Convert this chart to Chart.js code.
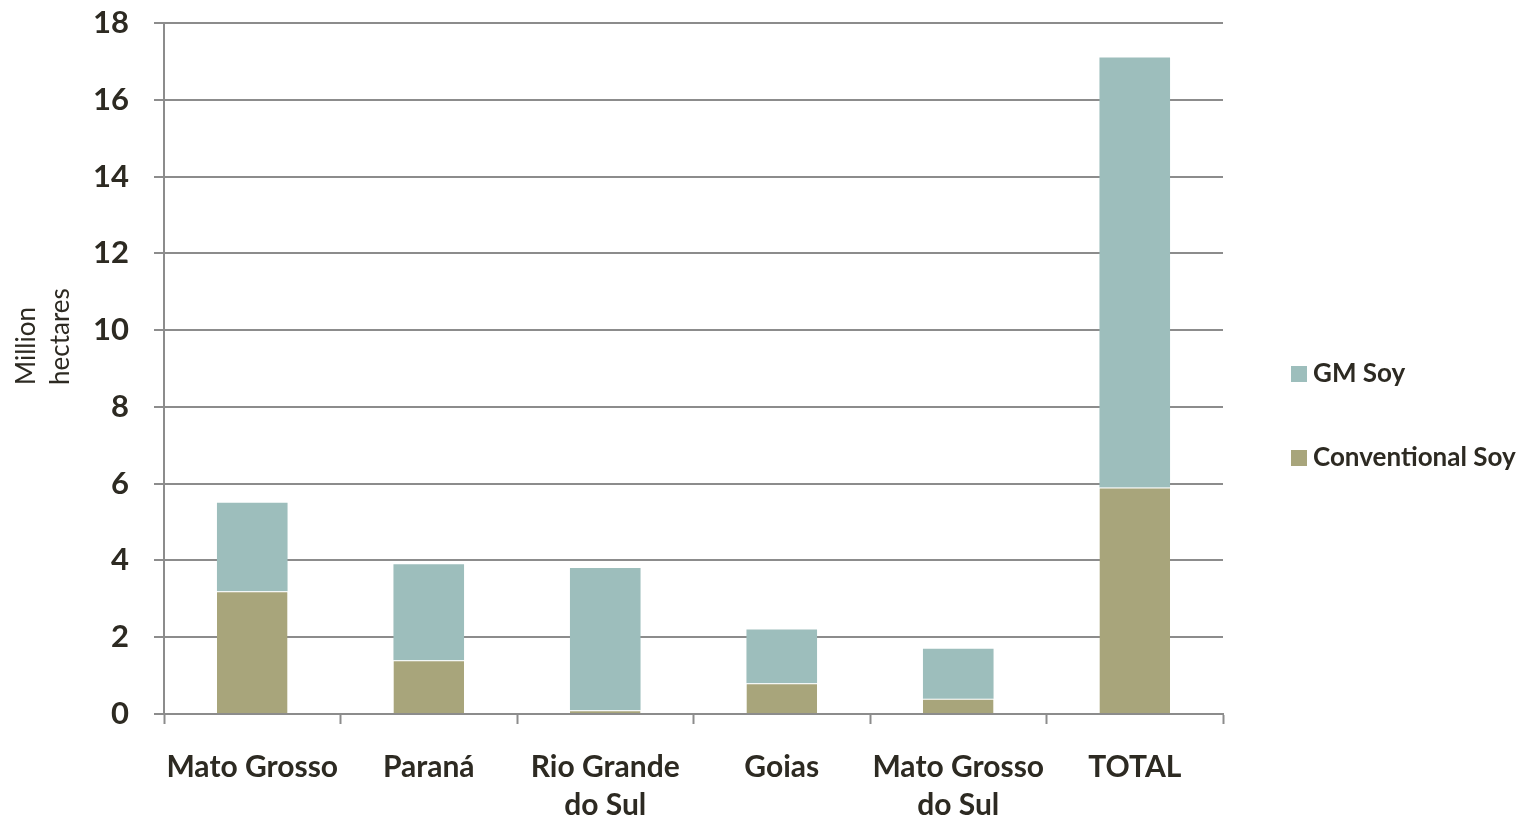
<!DOCTYPE html>
<html>
<head>
<meta charset="utf-8">
<script src="https://cdn.jsdelivr.net/npm/chart.js@4.4.1/dist/chart.umd.min.js"></script>
<style>
  html, body { margin: 0; padding: 0; background: #fff; }
  #wrap { position: relative; width: 1521px; height: 817px; }
</style>
</head>
<body>
<div id="wrap"><canvas id="soyChart" width="1521" height="817"></canvas></div>
<script>
// Soy planted area by state, million hectares
const states = ['Mato Grosso', 'Paraná', ['Rio Grande', 'do Sul'], 'Goias', ['Mato Grosso', 'do Sul'], 'TOTAL'];
const conventionalSoy = [3.2, 1.4, 0.1, 0.8, 0.4, 5.9];
const gmSoy = [2.3, 2.5, 3.7, 1.4, 1.3, 11.2];
const yTicks = [0, 2, 4, 6, 8, 10, 12, 14, 16, 18];

const textColor = '#2d2a22';
const lineColor = '#8c8c8c';
const FONT = 'Lato, "Open Sans", sans-serif';

// y title and legend, drawn straight onto the canvas
const sideText = {
    id: 'sideText',
    afterDraw(chart) {
        const ctx = chart.ctx;
        ctx.save();
        ctx.fillStyle = textColor;
        ctx.font = '26px ' + FONT;
        ctx.textBaseline = 'middle';
        ctx.textAlign = 'left';
        ctx.translate(0, 385);
        ctx.rotate(-Math.PI / 2);
        ctx.fillText('Million', 0, 27);
        ctx.fillText('hectares', 0, 61);
        ctx.restore();

        // legend, top item is the upper stack segment
        const items = chart.data.datasets.slice().reverse();
        ctx.save();
        ctx.font = 'bold 26px ' + FONT;
        ctx.textBaseline = 'middle';
        items.forEach((ds, i) => {
            const cy = 374 + i * 84;
            ctx.fillStyle = ds.backgroundColor;
            ctx.fillRect(1291, cy - 8, 16, 16);
            ctx.fillStyle = textColor;
            ctx.fillText(ds.label, 1313, cy);
        });
        ctx.restore();
    }
};

new Chart(document.getElementById('soyChart'), {
    type: 'bar',
    data: {
        labels: states,
        datasets: [
            {
                label: 'Conventional Soy',
                data: conventionalSoy,
                backgroundColor: '#a8a57b',
                borderColor: 'rgba(255,255,255,0.85)',
                borderWidth: { top: 1, left: 0, right: 0, bottom: 0 },
                borderSkipped: false,
                categoryPercentage: 0.8,
                barPercentage: 0.5
            },
            {
                label: 'GM Soy',
                data: gmSoy,
                backgroundColor: '#9dbebc',
                borderWidth: 0,
                categoryPercentage: 0.8,
                barPercentage: 0.5
            }
        ]
    },
    options: {
        responsive: false,
        animation: false,
        devicePixelRatio: 1,
        layout: { padding: { top: 23, right: 298, bottom: 0, left: 0 } },
        plugins: {
            legend: { display: false },
            tooltip: { enabled: false }
        },
        scales: {
            x: {
                stacked: true,
                border: { color: lineColor, width: 2 },
                grid: {
                    offset: true,
                    drawOnChartArea: false,
                    drawTicks: true,
                    tickLength: 10,
                    tickWidth: 2,
                    tickColor: lineColor
                },
                ticks: {
                    color: textColor,
                    font: { family: FONT, size: 30, weight: 'bold', lineHeight: 1.27 },
                    padding: 24,
                    maxRotation: 0,
                    autoSkip: false
                },
                afterFit(scale) { scale.height = 103; }
            },
            y: {
                stacked: true,
                min: 0,
                max: 18,
                afterBuildTicks(scale) { scale.ticks = yTicks.map(v => ({ value: v })); },
                border: { color: lineColor, width: 2 },
                grid: {
                    color: lineColor,
                    lineWidth: 2,
                    tickLength: 10
                },
                ticks: {
                    color: textColor,
                    font: { family: FONT, size: 31, weight: 'bold' },
                    padding: 25
                },
                afterFit(scale) {
                    scale.width = 164;
                    // label padding should not push the plot area down
                    scale.paddingTop = 0;
                    scale.paddingBottom = 0;
                }
            }
        }
    },
    plugins: [sideText]
});
</script>
</body>
</html>
